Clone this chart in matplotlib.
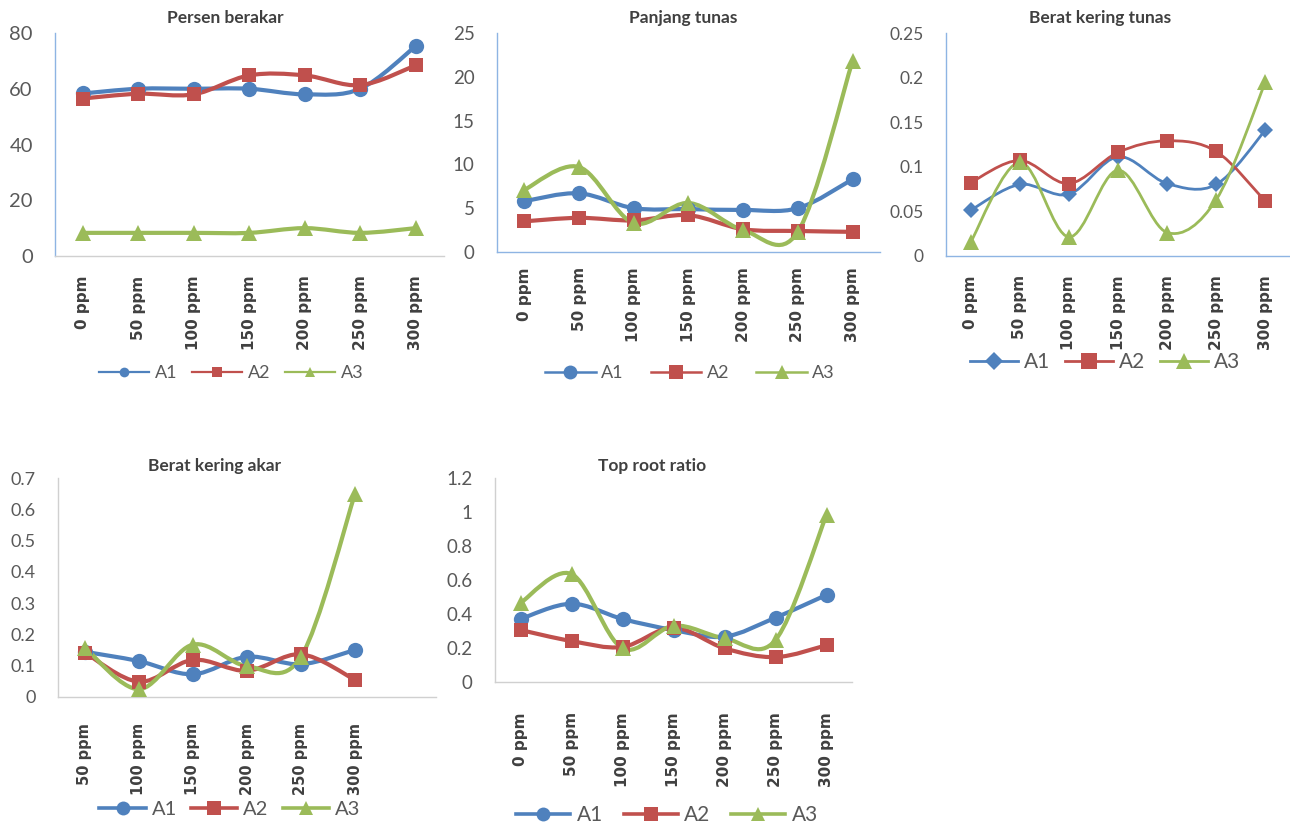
import numpy as np
import matplotlib
matplotlib.use("Agg")
import matplotlib.pyplot as plt
from matplotlib.path import Path
from matplotlib.patches import PathPatch
from matplotlib.lines import Line2D

# ---------------- data ----------------
doses = ["0 ppm", "50 ppm", "100 ppm", "150 ppm", "200 ppm", "250 ppm", "300 ppm"]
doses_akar = ["50 ppm", "100 ppm", "150 ppm", "200 ppm", "250 ppm", "300 ppm"]
series_names = ["A1", "A2", "A3"]

persen_A1 = [58.3, 60, 60, 60, 58, 60, 75.3]
persen_A2 = [56.5, 58.2, 58, 64.8, 64.8, 61.3, 68.4]
persen_A3 = [8.3, 8.3, 8.3, 8.3, 10, 8.3, 10]

panjang_A1 = [5.8, 6.7, 5.0, 4.9, 4.8, 5.0, 8.3]
panjang_A2 = [3.5, 3.9, 3.6, 4.2, 2.6, 2.4, 2.3]
panjang_A3 = [7.1, 9.7, 3.3, 5.6, 2.5, 2.3, 21.8]

bkt_A1 = [0.051, 0.080, 0.069, 0.111, 0.081, 0.080, 0.141]
bkt_A2 = [0.082, 0.107, 0.081, 0.116, 0.129, 0.117, 0.061]
bkt_A3 = [0.015, 0.105, 0.021, 0.096, 0.026, 0.063, 0.195]

bka_A1 = [0.144, 0.114, 0.072, 0.128, 0.104, 0.150]
bka_A2 = [0.141, 0.048, 0.118, 0.083, 0.136, 0.054]
bka_A3 = [0.157, 0.024, 0.167, 0.098, 0.128, 0.650]

trr_A1 = [0.37, 0.46, 0.37, 0.305, 0.266, 0.378, 0.512]
trr_A2 = [0.305, 0.24, 0.205, 0.319, 0.197, 0.145, 0.215]
trr_A3 = [0.465, 0.635, 0.197, 0.33, 0.256, 0.246, 0.984]

yt_persen = ["0", "20", "40", "60", "80"]
yt_panjang = ["0", "5", "10", "15", "20", "25"]
yt_bkt = ["0", "0.05", "0.1", "0.15", "0.2", "0.25"]
yt_bka = ["0", "0.1", "0.2", "0.3", "0.4", "0.5", "0.6", "0.7"]
yt_trr = ["0", "0.2", "0.4", "0.6", "0.8", "1", "1.2"]

# ---------------- style ----------------
BLUE, RED, GREEN = "#4F81BD", "#C0504D", "#9BBB59"
COLORS = [BLUE, RED, GREEN]
TXT = "#404040"
TICK = "#595959"
SPINE_BLUE = "#8EB4E3"
SPINE_GRAY = "#D0D0D0"
FONT = "Lato"

W, H = 1290, 825
fig = plt.figure(figsize=(W / 100, H / 100), dpi=100)
fig.patch.set_facecolor("white")


def px_axes(left, top, right, bottom):
    return fig.add_axes([left / W, 1 - bottom / H, (right - left) / W, (bottom - top) / H])


def smooth_path(xs, ys):
    """Cubic Bezier curve through the points (Catmull-Rom style smoothing)."""
    pts = np.column_stack([xs, ys]).astype(float)
    n = len(pts)
    verts = [pts[0]]
    codes = [Path.MOVETO]
    for i in range(n - 1):
        p0 = pts[i - 1] if i > 0 else pts[i]
        p1 = pts[i]
        p2 = pts[i + 1]
        p3 = pts[i + 2] if i + 2 < n else pts[i + 1]
        verts += [p1 + (p2 - p0) / 6.0, p2 - (p3 - p1) / 6.0, p2]
        codes += [Path.CURVE4] * 3
    return Path(verts, codes)


def panel(box, title, title_xy, series, markers, labels, yticks, ylabels, ytick_fs,
          spine_left, spine_bottom, lw, ms, legend_xy, leg_lw, leg_ms, leg_fs,
          xlabel_pad=8, xlabel_fs=11, handlelength=2.8, colspacing=1.0):
    ax = px_axes(*box)
    nslots = 7
    ax.set_xlim(-0.5, nslots - 0.5)
    ax.set_ylim(yticks[0], yticks[-1])
    for spine in ("top", "right"):
        ax.spines[spine].set_visible(False)
    ax.spines["left"].set_color(spine_left)
    ax.spines["bottom"].set_color(spine_bottom)
    ax.spines["left"].set_linewidth(1.0)
    ax.spines["bottom"].set_linewidth(1.0)
    ax.set_yticks(yticks)
    ax.set_yticklabels(ylabels, fontfamily=FONT, fontsize=ytick_fs, color=TICK)
    ax.set_xticks(range(len(labels)))
    ax.set_xticklabels(labels, rotation=90, fontfamily="DejaVu Sans", fontweight="bold",
                       fontsize=xlabel_fs, color=TXT, va="top", ha="center")
    ax.tick_params(axis="y", length=0, pad=16)
    ax.tick_params(axis="x", length=0, pad=xlabel_pad)
    ax.set_facecolor("none")

    handles = []
    for vals, col, mk in zip(series, COLORS, markers):
        xs = np.arange(len(vals))
        patch = PathPatch(smooth_path(xs, vals), facecolor="none", edgecolor=col,
                          lw=lw, capstyle="round", joinstyle="round", clip_on=False)
        ax.add_patch(patch)
        ax.plot(xs, vals, ls="none", marker=mk, color=col, markersize=ms[mk],
                markeredgewidth=0, clip_on=False, zorder=3)
        handles.append(Line2D([], [], color=col, lw=leg_lw, marker=mk,
                              markersize=leg_ms[mk], markeredgewidth=0))

    fig.text(title_xy[0] / W, 1 - title_xy[1] / H, title, ha="center", va="center",
             fontfamily=FONT, fontweight="bold", fontsize=12.5, color=TXT)

    fig.legend(handles, series_names, loc="center",
               bbox_to_anchor=(legend_xy[0] / W, 1 - legend_xy[1] / H),
               ncol=3, frameon=False, handlelength=handlelength, handletextpad=0.3,
               columnspacing=colspacing, prop={"family": FONT, "size": leg_fs},
               labelcolor=TICK, borderpad=0, borderaxespad=0)
    return ax


ms_big = {"o": 11, "s": 10, "^": 11, "D": 7}
leg_small = {"o": 7, "s": 7, "^": 7, "D": 6}
leg_big = {"o": 10, "s": 10, "^": 10, "D": 8}

panel((55, 33, 55 + 7 * 55.5, 256), "Persen berakar", (225, 18),
      [persen_A1, persen_A2, persen_A3], ["o", "s", "^"], doses,
      [0, 20, 40, 60, 80], yt_persen, 14.5, SPINE_BLUE, SPINE_GRAY,
      3.0, ms_big, (231, 373), 1.6, leg_small, 13, xlabel_pad=14,
      handlelength=2.8, colspacing=0.8)

panel((497, 33, 497 + 7 * 54.7, 252), "Panjang tunas", (683, 18),
      [panjang_A1, panjang_A2, panjang_A3], ["o", "s", "^"], doses,
      [0, 5, 10, 15, 20, 25], yt_panjang, 13.5, SPINE_BLUE, SPINE_BLUE,
      3.0, ms_big, (690, 373), 1.8, leg_big, 13, xlabel_pad=11,
      handlelength=2.8, colspacing=1.5)

panel((946, 33, 1290, 255.7), "Berat kering tunas", (1100, 18),
      [bkt_A1, bkt_A2, bkt_A3], ["D", "s", "^"], doses,
      [0, 0.05, 0.1, 0.15, 0.2, 0.25], yt_bkt, 12.5, SPINE_BLUE, SPINE_BLUE,
      2.0, {"D": 8, "s": 10, "^": 11, "o": 10}, (1105, 362), 2.0,
      {"D": 9, "s": 12, "^": 12, "o": 10}, 15, xlabel_pad=14,
      handlelength=2.3, colspacing=0.7)

panel((58, 478.3, 58 + 7 * 54, 696.7), "Berat kering akar", (215, 466),
      [bka_A1, bka_A2, bka_A3], ["o", "s", "^"], doses_akar,
      [0, 0.1, 0.2, 0.3, 0.4, 0.5, 0.6, 0.7], yt_bka, 13, SPINE_GRAY, SPINE_GRAY,
      3.0, ms_big, (230, 809), 2.6, leg_big, 14.5, xlabel_pad=19, xlabel_fs=10.5,
      handlelength=2.3, colspacing=0.7)

panel((495, 478.3, 495 + 7 * 51, 681.7), "Top root ratio", (652, 466),
      [trr_A1, trr_A2, trr_A3], ["o", "s", "^"], doses,
      [0, 0.2, 0.4, 0.6, 0.8, 1.0, 1.2], yt_trr, 13.5, SPINE_GRAY, SPINE_GRAY,
      3.0, ms_big, (667, 815), 2.6, leg_big, 15, xlabel_pad=22,
      handlelength=2.6, colspacing=1.0)

fig.savefig("out.png", dpi=100, facecolor="white")
